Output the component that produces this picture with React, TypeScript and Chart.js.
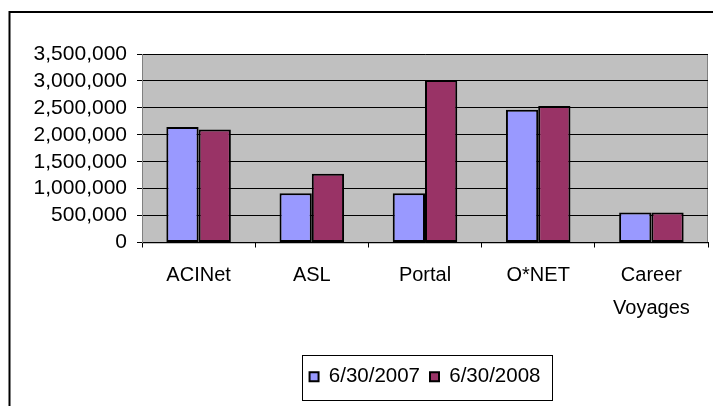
import React, { useEffect, useRef } from "react";
import { Chart, registerables } from "chart.js";

Chart.register(...registerables);

const categories: (string | string[])[] = ["ACINet", "ASL", "Portal", "O*NET", ["Career", "Voyages"]];
const seriesNames = ["6/30/2007", "6/30/2008"];
const values2007 = [2145000, 915000, 915000, 2465000, 555000];
const values2008 = [2100000, 1275000, 3015000, 2535000, 555000];
const yMax = 3500000;
const yStep = 500000;

const FONT = "'Liberation Sans', Arial, sans-serif";

const framePlugin = {
  id: "frame",
  beforeDraw(chart: any) {
    const { ctx, chartArea } = chart;
    ctx.save();
    ctx.fillStyle = "#ffffff";
    ctx.fillRect(0, 0, chart.width, chart.height);
    // outer frame
    ctx.strokeStyle = "#000";
    ctx.lineWidth = 2;
    ctx.beginPath();
    ctx.moveTo(9.5, chart.height + 2);
    ctx.lineTo(9.5, 12);
    ctx.lineTo(chart.width + 2, 12);
    ctx.stroke();
    // plot background
    ctx.fillStyle = "#C0C0C0";
    ctx.fillRect(chartArea.left, chartArea.top, chartArea.right - chartArea.left, chartArea.bottom - chartArea.top);
    ctx.strokeStyle = "#808080";
    ctx.lineWidth = 1;
    ctx.strokeRect(chartArea.left + 0.5, chartArea.top + 0.5, chartArea.right - chartArea.left - 1, chartArea.bottom - chartArea.top);
    ctx.restore();
  },
  afterDraw(chart: any) {
    const legend = chart.legend;
    if (!legend || !legend.legendHitBoxes || !legend.legendHitBoxes.length) return;
    const boxes = legend.legendHitBoxes;
    let minX = Infinity, maxX = -Infinity, minY = Infinity, maxY = -Infinity;
    boxes.forEach((b: any) => {
      minX = Math.min(minX, b.left);
      maxX = Math.max(maxX, b.left + b.width);
      minY = Math.min(minY, b.top);
      maxY = Math.max(maxY, b.top + b.height);
    });
    const cy = (minY + maxY) / 2;
    const { ctx } = chart;
    ctx.save();
    ctx.strokeStyle = "#000";
    ctx.lineWidth = 1;
    ctx.strokeRect(Math.round(minX - 8) + 0.5, Math.round(cy - 22) + 0.5, Math.round(maxX - minX + 19), 45);
    ctx.restore();
  },
};

export default function App() {
  const ref = useRef<HTMLCanvasElement>(null);
  useEffect(() => {
    if (!ref.current) return;
    const chart = new Chart(ref.current, {
      type: "bar",
      data: {
        labels: categories,
        datasets: [
          {
            label: seriesNames[0],
            data: values2007,
            backgroundColor: "#9999FF",
            borderColor: "#000000",
            borderWidth: 2,
            borderSkipped: false,
          },
          {
            label: seriesNames[1],
            data: values2008,
            backgroundColor: "#993366",
            borderColor: "#000000",
            borderWidth: 2,
            borderSkipped: false,
          },
        ],
      },
      options: {
        responsive: false,
        animation: false,
        layout: { padding: { left: 0, top: 54, right: 5, bottom: 9 } },
        datasets: {
          bar: { categoryPercentage: 0.57, barPercentage: 1 },
        },
        plugins: {
          tooltip: { enabled: false },
          legend: {
            position: "bottom",
            fullSize: false,
            labels: {
              color: "#000",
              font: { family: FONT, size: 20.5 },
              boxWidth: 9,
              boxHeight: 9,
              padding: 10,
              useBorderRadius: false,
            },
          },
        },
        scales: {
          x: {
            offset: true,
            grid: {
              offset: true,
              drawOnChartArea: false,
              drawTicks: true,
              tickLength: 5,
              color: "#000",
            },
            border: { display: true, color: "#000", width: 1 },
            ticks: {
              color: "#000",
              font: { family: FONT, size: 20, lineHeight: 1.65 },
              padding: 11,
              maxRotation: 0,
              autoSkip: false,
            },
            afterFit(scale: any) {
              scale.height = 114;
            },
          },
          y: {
            min: 0,
            max: yMax,
            grid: {
              color: "#000",
              lineWidth: 1,
              tickLength: 5,
              drawTicks: true,
            },
            border: { display: true, color: "#808080", width: 1 },
            ticks: {
              stepSize: yStep,
              autoSkip: false,
              color: "#000",
              padding: 10,
              font: { family: FONT, size: 21, lineHeight: 1 },
              callback: (v: any) => Number(v).toLocaleString("en-US"),
            },
            afterFit(scale: any) {
              scale.width = 142;
            },
          },
        },
      },
      plugins: [framePlugin],
    });
    return () => chart.destroy();
  }, []);
  return (
    <div style={{ position: "fixed", left: 0, top: 0, width: 713, height: 406 }}>
      <canvas ref={ref} width={713} height={406} style={{ width: 713, height: 406, display: "block" }} />
    </div>
  );
}
